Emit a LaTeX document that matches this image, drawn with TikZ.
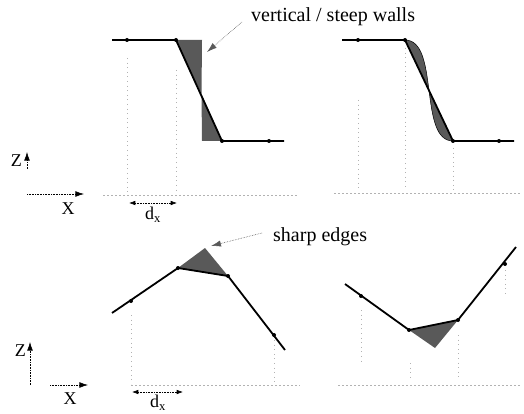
\documentclass[tikz,border=0pt]{standalone}
\usepackage{fontspec}
\setmainfont{Liberation Serif}
\usepackage{xcolor}
\usetikzlibrary{arrows.meta}

\tikzset{
  profile/.style={line width=1.8pt},
  sample/.style={circle, fill=black, inner sep=0pt, minimum size=4pt},
  err/.style={fill=black!65},
  grid/.style={gray!60, line width=0.6pt, dash pattern=on 0.6pt off 4pt},
  base/.style={gray!60, line width=0.6pt, dash pattern=on 2pt off 2pt},
  pointer/.style={-{Latex[length=3.5mm,width=2.2mm]}, densely dotted, gray!70!black, line width=0.6pt},
  axis/.style={-{Latex[length=3mm,width=2mm]}, densely dotted, line width=0.6pt},
  span/.style={{Latex[length=2.2mm,width=1.6mm]}-{Latex[length=2.2mm,width=1.6mm]}, densely dotted, line width=0.6pt},
  lbl/.style={font=\fontsize{20}{22}\selectfont, inner sep=0pt},
  axlbl/.style={font=\fontsize{18}{20}\selectfont, inner sep=0pt}
}

\begin{document}
\begin{tikzpicture}[x=1pt, y=-1pt]
\useasboundingbox (0,0) rectangle (524,414);

% vertical / steep walls, left
\coordinate (a1) at (112,40);
\coordinate (b1) at (176,40);
\coordinate (m1) at (201.5,94);
\coordinate (c1) at (222,141);
\coordinate (e1) at (284,141);
\fill[err] (b1) -- (202,40) -- (m1) -- cycle;
\fill[err] (m1) -- (202,141) -- (c1) -- cycle;
\draw[grid] (127,58) -- (127,192);
\draw[grid] (176,70) -- (176,192);
\draw[base] (103,195) -- (298,195);
\draw[profile] (a1) -- (b1) -- (c1) -- (e1);
\node[sample] (s11) at (127,40) {};
\node[sample] (s12) at (b1) {};
\node[sample] (s13) at (c1) {};
\node[sample] (s14) at (269,141) {};

% vertical / steep walls, right
\coordinate (a2) at (342,40);
\coordinate (b2) at (405,40);
\coordinate (c2) at (453,141);
\coordinate (e2) at (514,141);
\fill[err] (b2) .. controls (440,40) and (418,141) .. (c2) -- cycle;
\draw[line width=0.5pt] (b2) .. controls (440,40) and (418,141) .. (c2);
\draw[grid] (358,100) -- (358,190);
\draw[grid] (405,48) -- (405,190);
\draw[grid] (453,148) -- (453,190);
\draw[base] (334,193) -- (520,193);
\draw[profile] (a2) -- (b2) -- (c2) -- (e2);
\node[sample] (s21) at (358,40) {};
\node[sample] (s22) at (b2) {};
\node[sample] (s23) at (c2) {};
\node[sample] (s24) at (499,141) {};

\node[lbl, anchor=west] (walls) at (251,17) {vertical / steep walls};
\draw[pointer] (242,22) -- (207,52);

% axes, top
\node[axlbl, anchor=east] (z1) at (22,161) {Z};
\draw[axis] (27,169) -- (27,152);
\coordinate (o1) at (27,194);
\draw[axis] (o1) -- (84,194);
\node[axlbl] (x1) at (68,209) {X};
\draw[span] (129,203) -- (177,203);
\node[axlbl] (dx1) at (153,215) {d$_\mathrm{x}$};

% sharp edges, left
\coordinate (p1) at (112,313);
\coordinate (p2) at (178,268);
\coordinate (p3) at (228,276);
\coordinate (p4) at (285,350);
\fill[err] (p2) -- (205,248) -- (p3) -- cycle;
\draw[grid] (131,315) -- (131,384);
\draw[grid] (274,340) -- (274,384);
\draw[base] (131,385) -- (300,385);
\draw[profile] (p1) -- (p2) -- (p3) -- (p4);
\node[sample] (s31) at (131,301) {};
\node[sample] (s32) at (p2) {};
\node[sample] (s33) at (p3) {};
\node[sample] (s34) at (274,335) {};

% sharp edges, right
\coordinate (q1) at (345,284);
\coordinate (q2) at (409,330);
\coordinate (q3) at (458,320);
\coordinate (q4) at (516,247);
\fill[err] (q2) -- (435,348) -- (q3) -- cycle;
\draw[grid] (361,310) -- (361,365);
\draw[grid] (410,363) -- (410,378);
\draw[grid] (458,335) -- (458,378);
\draw[grid] (505,270) -- (505,297);
\draw[base] (338,385) -- (520,385);
\draw[profile] (q1) -- (q2) -- (q3) -- (q4);
\node[sample] (s41) at (361,296) {};
\node[sample] (s42) at (q2) {};
\node[sample] (s43) at (q3) {};
\node[sample] (s44) at (505,264) {};

\node[lbl, anchor=west] (edges) at (273,237) {sharp edges};
\draw[pointer] (262,233) -- (211,246);

% axes, bottom
\node[axlbl, anchor=east] (z2) at (26,351) {Z};
\coordinate (o2) at (30,385);
\draw[axis] (o2) -- (30,342);
\draw[axis] (50,385) -- (88,385);
\node[axlbl] (x2) at (70,399) {X};
\draw[span] (132,392) -- (183,392);
\node[axlbl] (dx2) at (158,403) {d$_\mathrm{x}$};
\end{tikzpicture}
\end{document}
